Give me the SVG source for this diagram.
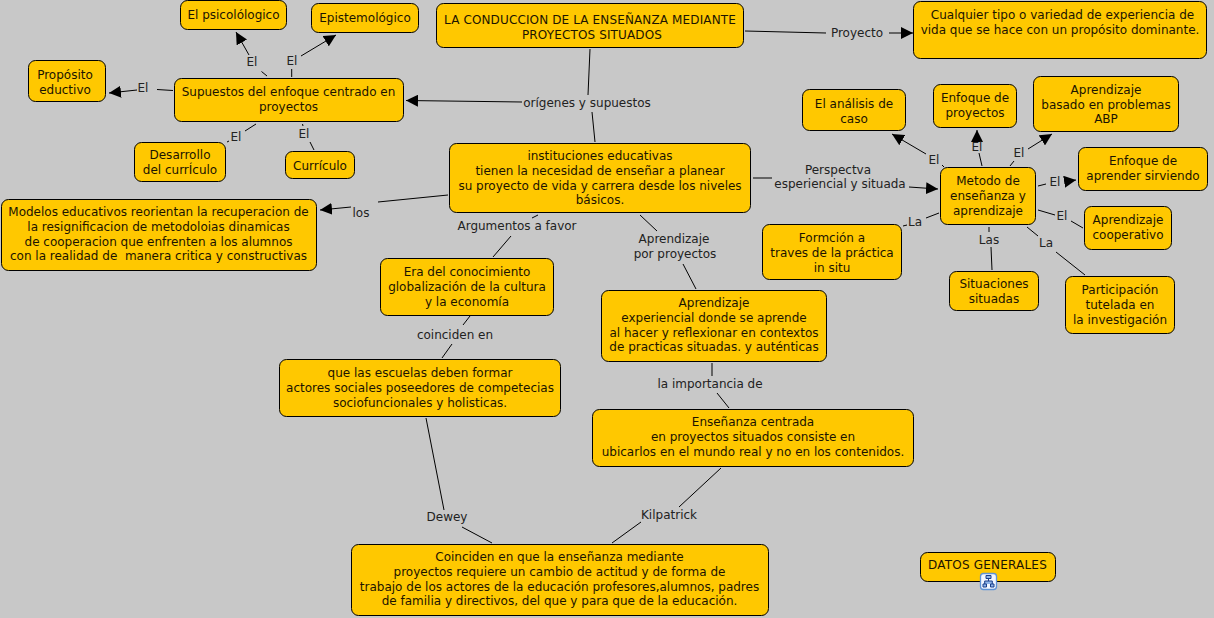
<svg xmlns="http://www.w3.org/2000/svg" width="1214" height="618" viewBox="0 0 1214 618">
<style>
text{font-family:"DejaVu Sans",Verdana,sans-serif;font-size:12px;text-anchor:middle;fill:#1c1400;white-space:pre}
.l{fill:#222}
.n{fill:#ffc800;stroke:#000;stroke-width:1}
#c path{fill:none;stroke:#000;stroke-width:1}
#c path.a{marker-end:url(#ah)}
</style>
<defs><marker id="ah" markerUnits="userSpaceOnUse" markerWidth="13" markerHeight="12" refX="12" refY="6" orient="auto"><path d="M0 0L12 6L0 12Z" fill="#000"/></marker></defs>
<rect width="1214" height="618" fill="#c8c8c8"/>
<g id="c">
<path d="M267 76L261.500 71.500"/><path class="a" d="M249 55L236 32"/>
<path d="M291.700 77V69"/><path class="a" d="M301 56L336 35"/>
<path d="M173 90.500L157 89.500"/><path class="a" d="M137 90L109 93"/>
<path d="M256 124L245 131"/><path d="M227 142L229 141"/>
<path d="M302.500 124L303 126"/><path d="M310 142L314 150"/>
<path d="M448 195L378 202"/><path class="a" d="M351 207L320 210"/>
<path d="M590 49L588 95"/><path class="a" d="M522 102L406 100.500"/><path d="M592 112L595 142"/>
<path d="M745 31L826 33"/><path class="a" d="M889 33L913 33"/>
<path d="M753 178H772"/><path class="a" d="M909 187L938 189"/>
<path d="M944 167L942 165"/><path class="a" d="M926 154L892 134"/>
<path d="M982 166L979 153"/><path class="a" d="M977 142V130"/>
<path d="M1010 166L1014 161"/><path class="a" d="M1028 149L1052 134"/>
<path d="M1038 186L1046 184"/><path class="a" d="M1066 181.500L1076 180"/>
<path d="M1038 210L1055 215"/><path d="M1071 221L1083 228"/>
<path d="M1027 227L1038 236"/><path d="M1056 252L1085 275"/>
<path d="M989 227V232"/><path d="M991 247L992 270"/>
<path d="M939 213L926 218"/><path d="M907 225L903 226"/>
<path d="M538 215L532 218"/><path d="M511 236L493 257"/>
<path d="M640 215L657 231"/><path d="M683 264L696 289"/>
<path d="M470 316L463 325"/><path d="M452 344L442 358"/>
<path d="M712 363V376"/><path d="M717 393L729 408"/>
<path d="M426 418L444 510"/><path d="M462 527L492 543"/>
<path d="M721 468L679 507"/><path d="M641 522L612 543"/>
</g>
<g id="labels">
<text class="l" x="252" y="66">El</text>
<text class="l" x="292" y="65">El</text>
<text class="l" x="143" y="92">El</text>
<text class="l" x="236" y="141">El</text>
<text class="l" x="304" y="138">El</text>
<text class="l" x="361" y="217">los</text>
<text class="l" x="587" y="107">orígenes y supuestos</text>
<text class="l" x="857" y="37">Proyecto</text>
<text class="l" x="838" y="174">Perspectva</text>
<text class="l" x="840" y="188">esperiencial y situada</text>
<text class="l" x="934" y="164">El</text>
<text class="l" x="977" y="151">El</text>
<text class="l" x="1019" y="157">El</text>
<text class="l" x="1055" y="186">El</text>
<text class="l" x="1062" y="220">El</text>
<text class="l" x="1046" y="247">La</text>
<text class="l" x="989" y="244">Las</text>
<text class="l" x="915" y="226">La</text>
<text class="l" x="517" y="230">Argumentos a favor</text>
<text class="l" x="674" y="243">Aprendizaje</text>
<text class="l" x="675" y="258">por proyectos</text>
<text class="l" x="455" y="339">coinciden en</text>
<text class="l" x="710" y="388">la importancia de</text>
<text class="l" x="447" y="521">Dewey</text>
<text class="l" x="669" y="519">Kilpatrick</text>
</g>
<g id="n1"><rect class="n" x="180.500" y="0.500" width="106" height="29" rx="7"/><text x="233.500" y="19">El psicolólogico</text></g>
<g id="n2"><rect class="n" x="311.500" y="3.500" width="107" height="29" rx="7"/><text x="365" y="22">Epistemológico</text></g>
<g id="n3"><rect class="n" x="28.500" y="60.500" width="77" height="41" rx="7"/><text x="65" y="79">Propósito</text><text x="65" y="93.500">eductivo</text></g>
<g id="n4"><rect class="n" x="174.500" y="78.500" width="229" height="43" rx="7"/><text x="288.500" y="96">Supuestos del enfoque centrado en</text><text x="288.500" y="111">proyectos</text></g>
<g id="n5"><rect class="n" x="134.500" y="142.500" width="91" height="39" rx="7"/><text x="180" y="159">Desarrollo</text><text x="180" y="174">del currÍculo</text></g>
<g id="n6"><rect class="n" x="285.500" y="151.500" width="69" height="27" rx="7"/><text x="320" y="170">Currículo</text></g>
<g id="n7"><rect class="n" x="1.500" y="199.500" width="315" height="71" rx="7"/><text x="158.500" y="216" font-size="11.900">Modelos educativos reorientan la recuperacion de</text><text x="158.500" y="231" font-size="11.900">la resignificacion de metodoloias dinamicas</text><text x="158.500" y="245.500" font-size="11.900">de cooperacion que enfrenten a los alumnos</text><text x="158.500" y="260">con la realidad de  manera critica y constructivas</text></g>
<g id="n8"><rect class="n" x="436.500" y="3.500" width="307" height="44" rx="7"/><text x="590" y="24" letter-spacing="0.130">LA CONDUCCION DE LA ENSEÑANZA MEDIANTE</text><text x="592" y="39" letter-spacing="0.130">PROYECTOS SITUADOS</text></g>
<g id="n9"><rect class="n" x="913.500" y="1.500" width="293" height="57" rx="7"/><text x="1062.500" y="19">Cualquier tipo o variedad de experiencia de</text><text x="1060" y="33.500">vida que se hace con un propósito dominante.</text></g>
<g id="n10"><rect class="n" x="449.500" y="143.500" width="301" height="69" rx="7"/><text x="600" y="160">instituciones educativas</text><text x="600" y="175">tienen la necesidad de enseñar a planear</text><text x="600" y="189.500">su proyecto de vida y carrera desde los niveles</text><text x="600" y="204">básicos.</text></g>
<g id="n11"><rect class="n" x="380.500" y="258.500" width="173" height="57" rx="7"/><text x="467" y="276">Era del conocimiento</text><text x="467" y="291">globalización de la cultura</text><text x="467" y="305.500">y la economía</text></g>
<g id="n12"><rect class="n" x="601.500" y="290.500" width="225" height="71" rx="7"/><text x="714" y="307">Aprendizaje</text><text x="714" y="322">experiencial donde se aprende</text><text x="714" y="336.500">al hacer y reflexionar en contextos</text><text x="714" y="351">de practicas situadas. y auténticas</text></g>
<g id="n13"><rect class="n" x="279.500" y="359.500" width="281" height="57" rx="7"/><text x="420" y="377">que las escuelas deben formar</text><text x="420" y="392">actores sociales poseedores de competecias</text><text x="420" y="406.500">sociofuncionales y holisticas.</text></g>
<g id="n14"><rect class="n" x="592.500" y="409.500" width="321" height="57" rx="7"/><text x="753" y="426">Enseñanza centrada</text><text x="753" y="441">en proyectos situados consiste en</text><text x="753" y="455.500">ubicarlos en el mundo real y no en los contenidos.</text></g>
<g id="n15"><rect class="n" x="351.500" y="544.500" width="417" height="71" rx="7"/><text x="559.500" y="561">Coinciden en que la enseñanza mediante</text><text x="559.500" y="576">proyectos requiere un cambio de actitud y de forma de</text><text x="559.500" y="590.500">trabajo de los actores de la educación profesores,alumnos, padres</text><text x="559.500" y="605">de familia y directivos, del que y para que de la educación.</text></g>
<g id="n16"><rect class="n" x="920.500" y="552.500" width="135" height="29" rx="7"/><text x="987.500" y="569" letter-spacing="0.200">DATOS GENERALES</text></g>
<g id="n17"><rect class="n" x="802.500" y="89.500" width="103" height="41" rx="7"/><text x="854" y="108">El análisis de</text><text x="854" y="123">caso</text></g>
<g id="n18"><rect class="n" x="933.500" y="84.500" width="83" height="43" rx="7"/><text x="975" y="102">Enfoque de</text><text x="975" y="117">proyectos</text></g>
<g id="n19"><rect class="n" x="1033.500" y="76.500" width="145" height="55" rx="7"/><text x="1106" y="94">Aprendizaje</text><text x="1106" y="109">basado en problemas</text><text x="1106" y="123">ABP</text></g>
<g id="n20"><rect class="n" x="1078.500" y="147.500" width="129" height="43" rx="7"/><text x="1143" y="165">Enfoque de</text><text x="1143" y="180">aprender sirviendo</text></g>
<g id="n21"><rect class="n" x="1084.500" y="206.500" width="87" height="43" rx="7"/><text x="1128" y="224">Aprendizaje</text><text x="1128" y="239">cooperativo</text></g>
<g id="n22"><rect class="n" x="940.500" y="167.500" width="95" height="57" rx="7"/><text x="988" y="185">Metodo de</text><text x="988" y="200">enseñanza y</text><text x="988" y="214.500">aprendizaje</text></g>
<g id="n23"><rect class="n" x="762.500" y="224.500" width="139" height="55" rx="7"/><text x="832" y="242">Formción a</text><text x="832" y="257">traves de la práctica</text><text x="832" y="271.500">in situ</text></g>
<g id="n24"><rect class="n" x="949.500" y="271.500" width="89" height="39" rx="7"/><text x="994" y="288">Situaciones</text><text x="994" y="303">situadas</text></g>
<g id="n25"><rect class="n" x="1065.500" y="276.500" width="109" height="57" rx="7"/><text x="1120" y="294">Participación</text><text x="1120" y="309">tutelada en</text><text x="1120" y="323.500">la investigación</text></g>
<g id="icon"><rect x="980.500" y="573.500" width="16" height="16" rx="3" fill="#f2f6ff" stroke="#5f93d6" stroke-width="1.300"/><path d="M986 575.500h5v3h-5zM983 584h3.500v3H983zM990.500 584h3.500v3h-3.500zM988.500 578.500V581M984.700 584V581H992.300V584" fill="#8fb4e8" stroke="#1a3f8a" stroke-width="1"/></g>
</svg>
